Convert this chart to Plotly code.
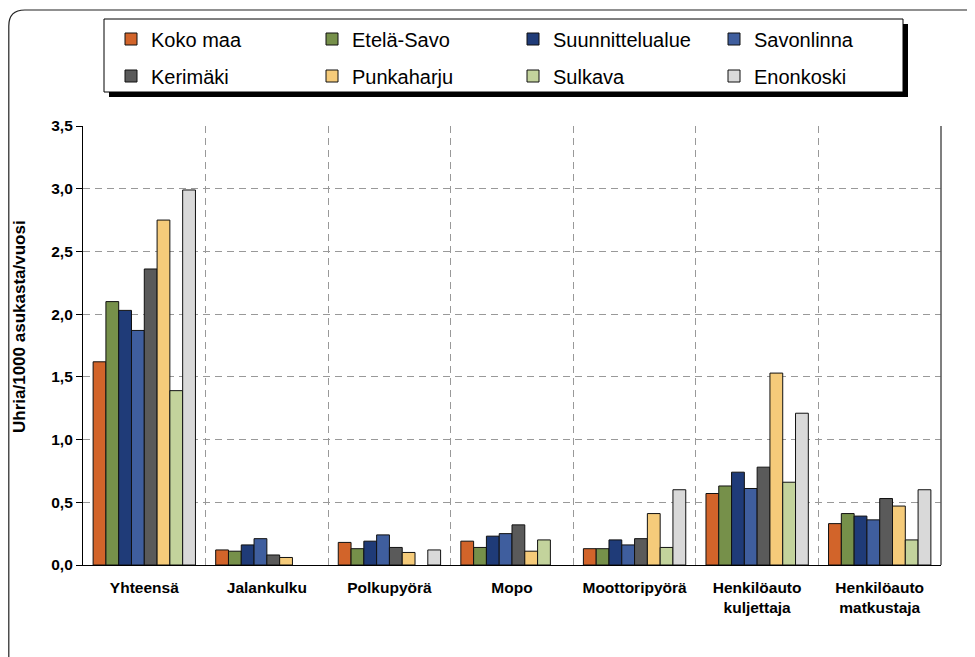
import plotly.graph_objects as go

categories = ["Yhteensä", "Jalankulku", "Polkupyörä", "Mopo", "Moottoripyörä",
              "Henkilöauto<br>kuljettaja", "Henkilöauto<br>matkustaja"]

koko_maa        = [1.62, 0.12, 0.18, 0.19, 0.13, 0.57, 0.33]
etela_savo      = [2.10, 0.11, 0.13, 0.14, 0.13, 0.63, 0.41]
suunnittelualue = [2.03, 0.16, 0.19, 0.23, 0.20, 0.74, 0.39]
savonlinna      = [1.87, 0.21, 0.24, 0.25, 0.16, 0.61, 0.36]
kerimaki        = [2.36, 0.08, 0.14, 0.32, 0.21, 0.78, 0.53]
punkaharju      = [2.75, 0.06, 0.10, 0.11, 0.41, 1.53, 0.47]
sulkava         = [1.39, None, None, 0.20, 0.14, 0.66, 0.20]
enonkoski       = [2.99, None, 0.12, None, 0.60, 1.21, 0.60]

series_names = ["Koko maa", "Etelä-Savo", "Suunnittelualue", "Savonlinna",
                "Kerimäki", "Punkaharju", "Sulkava", "Enonkoski"]
series_values = [koko_maa, etela_savo, suunnittelualue, savonlinna,
                 kerimaki, punkaharju, sulkava, enonkoski]
colors = ["#D2642A", "#76904A", "#1F3B78", "#3F5E9E",
          "#5A5A5A", "#F5CB7A", "#C3D39C", "#D9D9D9"]
y_title = "Uhria/1000 asukasta/vuosi"

OFF = 8  # page body margin
W, H = 975 - OFF, 657 - OFF
# plot area in reference pixel coordinates
PL, PR, PT, PB = 83, 941, 126, 565
ML, MR, MT, MB = PL - OFF, W - (PR - OFF), PT - OFF, H - (PB - OFF)
PW, PH = PR - PL, PB - PT


def px(x):
    return (x - PL) / PW


def py(y):
    return (PB - y) / PH


fig = go.Figure()
for i, (name, vals, col) in enumerate(zip(series_names, series_values, colors)):
    fig.add_trace(go.Bar(
        name=name, x=categories, y=vals,
        marker=dict(color=col, line=dict(color="#111111", width=1)),
        legend="legend" if i < 4 else "legend2",
    ))

# outer rounded frame (left edge lies at page edge)
r = 16
x0, y0, x1, y1 = OFF + 0.8, 10, 990, 690
path = (f"M {px(x0)},{py(y0 + r)} Q {px(x0)},{py(y0)} {px(x0 + r)},{py(y0)} "
        f"L {px(x1 - r)},{py(y0)} Q {px(x1)},{py(y0)} {px(x1)},{py(y0 + r)} "
        f"L {px(x1)},{py(y1)} L {px(x0)},{py(y1)} Z")
shapes = [
    dict(type="path", xref="paper", yref="paper", path=path,
         line=dict(color="#222222", width=1.2), fillcolor="rgba(0,0,0,0)", layer="below"),
    # legend shadow and box
    dict(type="rect", xref="paper", yref="paper",
         x0=px(109), x1=px(908), y0=py(24), y1=py(97),
         fillcolor="#000000", line=dict(width=0), layer="below"),
    dict(type="rect", xref="paper", yref="paper",
         x0=px(104), x1=px(903), y0=py(19), y1=py(92),
         fillcolor="#FFFFFF", line=dict(color="#000000", width=1), layer="below"),
    # right border of plot area
    dict(type="line", xref="paper", yref="paper", x0=1, x1=1, y0=0, y1=1,
         line=dict(color="#555555", width=1.5)),
]

legend_common = dict(
    orientation="h", xanchor="left", yanchor="middle",
    bgcolor="rgba(0,0,0,0)", borderwidth=0,
    font=dict(family="Liberation Sans, Arial, sans-serif", size=20, color="#000000"),
    entrywidth=156, entrywidthmode="pixels", itemclick=False,
)

fig.update_layout(
    width=W, height=H,
    margin=dict(l=ML, r=MR, t=MT, b=MB, pad=0),
    paper_bgcolor="#FFFFFF", plot_bgcolor="#FFFFFF",
    separators=", ",
    barmode="group", bargap=0.165, bargroupgap=0,
    font=dict(family="Liberation Sans, Arial, sans-serif", color="#000000"),
    shapes=shapes,
    showlegend=True,
    legend=dict(x=px(111), y=py(39), **legend_common),
    legend2=dict(x=px(111), y=py(76), **legend_common),
    annotations=[dict(
        text=y_title, xref="paper", yref="paper", x=px(19), y=py(327),
        xanchor="center", yanchor="middle", textangle=-90, showarrow=False,
        font=dict(size=17, weight="bold", color="#000000"),
    )],
    xaxis=dict(
        tickson="boundaries", showgrid=True, gridcolor="#999999", griddash="7px,5px",
        gridwidth=1, ticks="", showline=True, linecolor="#000000", linewidth=1.2,
        tickfont=dict(size=15.5, weight="bold", color="#000000"),
        ticklabelstandoff=8,
    ),
    yaxis=dict(
        range=[0, 3.5], dtick=0.5, tickformat=".1f",
        showgrid=True, gridcolor="#999999", griddash="7px,5px", gridwidth=1,
        ticks="outside", ticklen=6, tickcolor="#000000",
        showline=True, linecolor="#000000", linewidth=1.2,
        tickfont=dict(size=15.5, weight="bold", color="#000000"),
        zeroline=False,
    ),
)

fig.write_html("out.html")
